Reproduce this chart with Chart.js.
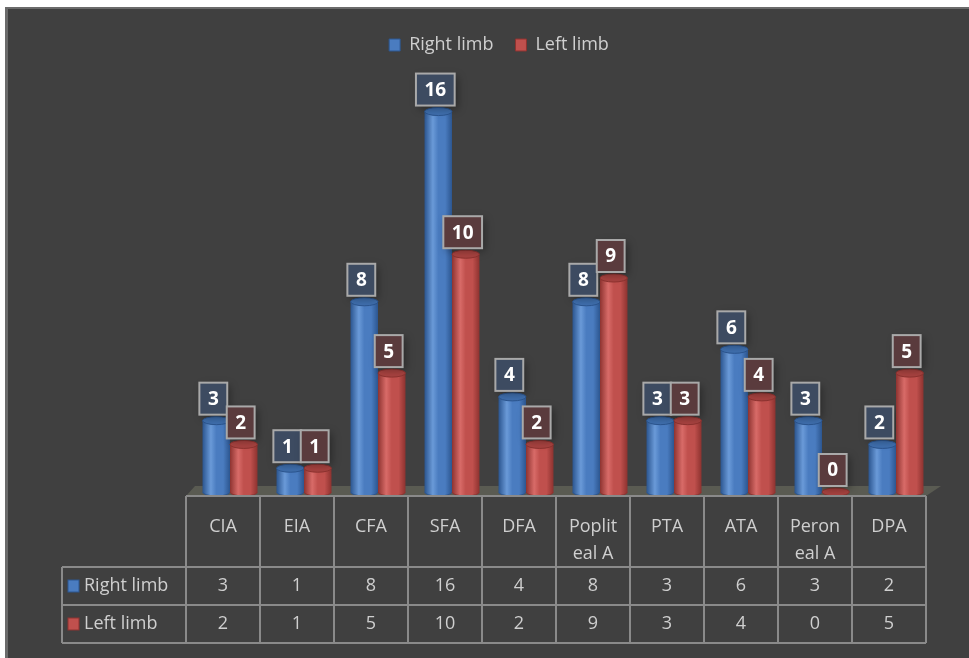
<!DOCTYPE html>
<html>
<head>
<meta charset="utf-8">
<script src="https://cdn.jsdelivr.net/npm/chart.js@4.4.1/dist/chart.umd.min.js"></script>
<style>
  body { margin: 0; background: #fff; }
  #wrap {
    position: absolute; left: 5px; top: 7px;
    width: 961px; height: 649px;
    background: #404040;
    border-left: 3px solid #6b6b6b;
    border-top: 2px solid #6b6b6b;
  }
</style>
</head>
<body>
<div id="wrap"><canvas id="chart" width="961" height="649"></canvas></div>
<script>
const categories = ["CIA", "EIA", "CFA", "SFA", "DFA", "Poplit\neal A", "PTA", "ATA", "Peron\neal A", "DPA"];
const rightLimb = [3, 1, 8, 16, 4, 8, 3, 6, 3, 2];
const leftLimb = [2, 1, 5, 10, 2, 9, 3, 4, 0, 5];
const seriesNames = ["Right limb", "Left limb"];

const FONT = "'Open Sans', sans-serif";
const TEXT = "#cfcfcf";

const shades = [
  { base: "#4a7cc0", dark: "#2c5690", light: "#6a9ad8", top: "#3f6fae", box: "#3d4b61" },
  { base: "#c0504d", dark: "#8e3330", light: "#d86b68", top: "#a84340", box: "#5a3b3d" },
];

// 3D floor under the bars
const floorPlugin = {
  id: "floor",
  beforeDatasetsDraw(chart) {
    const { ctx, scales: { x } } = chart;
    const w = x.width / categories.length;
    const left = x.getPixelForValue(0) - w / 2 - 7;
    const right = left + w * categories.length;
    ctx.save();
    ctx.fillStyle = "#5a5b52";
    ctx.beginPath();
    ctx.moveTo(left, 487);
    ctx.lineTo(left + 9, 477);
    ctx.lineTo(right + 15, 477);
    ctx.lineTo(right, 487);
    ctx.closePath();
    ctx.fill();
    ctx.restore();
  },
};

// cylinder shading and value boxes
const cylinderPlugin = {
  id: "cylinders",
  afterDatasetsDraw(chart) {
    const { ctx } = chart;
    chart.data.datasets.forEach((ds, di) => {
      const s = shades[di];
      chart.getDatasetMeta(di).data.forEach((bar, i) => {
        const l = bar.x - bar.width / 2, r = bar.x + bar.width / 2;
        const rx = bar.width / 2, ry = 4;
        ctx.save();
        if (bar.base - bar.y > 1) {
          const g = ctx.createLinearGradient(l, 0, r, 0);
          g.addColorStop(0, s.dark);
          g.addColorStop(0.3, s.light);
          g.addColorStop(0.5, s.base);
          g.addColorStop(0.75, s.base);
          g.addColorStop(1, s.dark);
          ctx.fillStyle = g;
          ctx.fillRect(l, bar.y, bar.width, bar.base - bar.y);
          ctx.beginPath();
          ctx.ellipse(bar.x, bar.base, rx, ry, 0, 0, Math.PI);
          ctx.fill();
          ctx.strokeStyle = s.dark;
          ctx.lineWidth = 1;
          ctx.stroke();
        }
        ctx.beginPath();
        ctx.ellipse(bar.x, bar.y, rx, ry, 0, 0, Math.PI * 2);
        ctx.fillStyle = s.top;
        ctx.fill();
        ctx.strokeStyle = s.dark;
        ctx.stroke();
        ctx.restore();

        // value box
        const label = String(ds.data[i]);
        ctx.save();
        ctx.font = "bold 19px " + FONT;
        const bw = ctx.measureText(label).width + 17, bh = 32;
        const cx = bar.x - 3, bottom = bar.y - 6;
        ctx.shadowColor = "rgba(0,0,0,0.35)";
        ctx.shadowBlur = 8;
        ctx.shadowOffsetX = 3;
        ctx.shadowOffsetY = 3;
        ctx.fillStyle = s.box;
        ctx.fillRect(cx - bw / 2, bottom - bh, bw, bh);
        ctx.shadowColor = "transparent";
        ctx.strokeStyle = "#a9a9a9";
        ctx.lineWidth = 2;
        ctx.strokeRect(cx - bw / 2, bottom - bh, bw, bh);
        ctx.fillStyle = "#ffffff";
        ctx.textAlign = "center";
        ctx.textBaseline = "middle";
        ctx.fillText(label, cx, bottom - bh / 2 + 1);
        ctx.restore();
      });
    });
  },
};

// data table beneath the plot
const tablePlugin = {
  id: "dataTable",
  afterDraw(chart) {
    const { ctx, scales: { x } } = chart;
    const n = categories.length;
    const w = x.width / n;
    const left = x.getPixelForValue(0) - w / 2 - 7;
    const right = left + w * n;
    const rows = [487, 558, 596, 634];
    const headLeft = 54;
    ctx.save();
    ctx.strokeStyle = "#8a8a8a";
    ctx.lineWidth = 2;
    ctx.beginPath();
    ctx.moveTo(left, rows[0]); ctx.lineTo(right, rows[0]);
    rows.slice(1).forEach((y) => { ctx.moveTo(headLeft, y); ctx.lineTo(right, y); });
    for (let i = 0; i <= n; i++) {
      ctx.moveTo(left + i * w, rows[0]);
      ctx.lineTo(left + i * w, rows[3]);
    }
    ctx.moveTo(headLeft, rows[1]); ctx.lineTo(headLeft, rows[3]);
    ctx.stroke();

    ctx.fillStyle = TEXT;
    ctx.font = "18px " + FONT;
    ctx.textAlign = "center";
    ctx.textBaseline = "middle";
    categories.forEach((c, i) => {
      const cx = left + (i + 0.5) * w;
      c.split("\n").forEach((line, k) => ctx.fillText(line, cx, 518 + k * 27));
      ctx.fillText(String(rightLimb[i]), cx, 577);
      ctx.fillText(String(leftLimb[i]), cx, 615);
    });

    [rightLimb, leftLimb].forEach((_, r) => {
      const y = r === 0 ? 577 : 615;
      ctx.fillStyle = shades[r].base;
      ctx.fillRect(60, y - 6, 11, 12);
      ctx.strokeStyle = shades[r].dark;
      ctx.lineWidth = 1;
      ctx.strokeRect(60, y - 6, 11, 12);
      ctx.fillStyle = TEXT;
      ctx.textAlign = "left";
      ctx.fillText(seriesNames[r], 76, y);
    });
    ctx.restore();
  },
};

new Chart(document.getElementById("chart").getContext("2d"), {
  type: "bar",
  data: {
    labels: categories,
    datasets: [
      {
        label: seriesNames[0],
        data: rightLimb,
        backgroundColor: shades[0].base,
        borderColor: shades[0].dark,
        borderWidth: 1,
      },
      {
        label: seriesNames[1],
        data: leftLimb,
        backgroundColor: shades[1].base,
        borderColor: shades[1].dark,
        borderWidth: 1,
      },
    ],
  },
  options: {
    responsive: false,
    animation: false,
    categoryPercentage: 0.74,
    barPercentage: 1,
    layout: { padding: { top: 5, left: 57, right: 36, bottom: 166 } },
    plugins: {
      legend: {
        position: "top",
        labels: {
          color: TEXT,
          boxWidth: 11,
          boxHeight: 12,
          padding: 22,
          font: { family: FONT, size: 18 },
        },
      },
      tooltip: { enabled: false },
    },
    scales: {
      x: { display: false },
      y: {
        min: 0,
        max: 18,
        border: { display: false },
        grid: { display: false },
        ticks: { display: false },
        // empty axis column so the plot starts where the table columns do
        afterFit(scale) { scale.width = 128; },
      },
    },
  },
  plugins: [floorPlugin, cylinderPlugin, tablePlugin],
});
</script>
</body>
</html>
